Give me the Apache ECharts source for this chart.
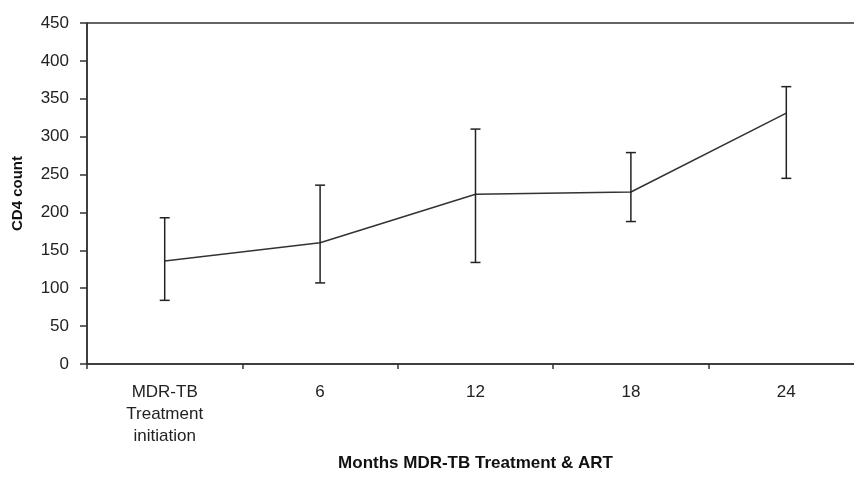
<!DOCTYPE html>
<html>
<head>
<meta charset="utf-8">
<script src="https://cdn.jsdelivr.net/npm/echarts@6/dist/echarts.min.js"></script>
<style>
  html, body { margin: 0; padding: 0; background: #fff; }
  #main { width: 854px; height: 477px; }
</style>
</head>
<body>
<div id="main"></div>
<script>
// data
var categories = ['MDR-TB\nTreatment\ninitiation', '6', '12', '18', '24'];
var meanCD4 = [136, 160, 224, 227, 331];
var upperCD4 = [193, 236, 310, 279, 366];
var lowerCD4 = [84, 107, 134, 188, 245];
var yTicks = [0, 50, 100, 150, 200, 250, 300, 350, 400, 450];

var errData = categories.map(function(c, i) {
  return [i, lowerCD4[i], upperCD4[i]];
});

var myChart = echarts.init(document.getElementById('main'));

var option = {
  animation: false,
  grid: {
    left: 87,
    right: -10,
    top: 23,
    bottom: 113,
    outerBoundsMode: 'none',
    containLabel: false,
    show: true,
    borderColor: '#333',
    borderWidth: 1.5,
    backgroundColor: '#fff'
  },
  xAxis: {
    type: 'category',
    data: categories,
    name: 'Months MDR-TB Treatment & ART',
    nameLocation: 'middle',
    nameGap: 91,
    nameTextStyle: {
      fontFamily: 'Liberation Sans',
      fontWeight: 'bold',
      fontSize: 17,
      color: '#111'
    },
    axisLine: { lineStyle: { color: '#333', width: 1.5 } },
    axisTick: { show: true, length: 5, lineStyle: { color: '#333', width: 1.5 } },
    axisLabel: {
      margin: 17,
      fontFamily: 'Liberation Sans',
      fontSize: 17,
      color: '#222',
      lineHeight: 22
    },
    splitLine: { show: false }
  },
  yAxis: {
    type: 'value',
    min: 0,
    max: 450,
    interval: 50,
    name: 'CD4 count',
    nameLocation: 'middle',
    nameGap: 62,
    nameTextStyle: {
      fontFamily: 'Liberation Sans',
      fontWeight: 'bold',
      fontSize: 15,
      color: '#111'
    },
    axisLine: { show: true, lineStyle: { color: '#333', width: 1.5 } },
    axisTick: { show: true, length: 7, lineStyle: { color: '#333', width: 1.5 } },
    axisLabel: {
      margin: 18,
      fontFamily: 'Liberation Sans',
      fontSize: 17,
      color: '#222',
      formatter: function(v) { return yTicks.indexOf(v) >= 0 ? String(v) : ''; }
    },
    splitLine: { show: false }
  },
  series: [
    {
      type: 'line',
      data: meanCD4,
      symbol: 'none',
      lineStyle: { color: '#333', width: 1.5 },
      z: 3
    },
    {
      type: 'custom',
      data: errData,
      z: 4,
      renderItem: function(params, api) {
        var x = api.value(0);
        var lo = api.coord([x, api.value(1)]);
        var hi = api.coord([x, api.value(2)]);
        var w = 5;
        var st = { stroke: '#222', lineWidth: 1.5 };
        return {
          type: 'group',
          children: [
            { type: 'line', shape: { x1: lo[0], y1: lo[1], x2: hi[0], y2: hi[1] }, style: st },
            { type: 'line', shape: { x1: hi[0] - w, y1: hi[1], x2: hi[0] + w, y2: hi[1] }, style: st },
            { type: 'line', shape: { x1: lo[0] - w, y1: lo[1], x2: lo[0] + w, y2: lo[1] }, style: st }
          ]
        };
      }
    }
  ]
};

myChart.setOption(option);
</script>
</body>
</html>
